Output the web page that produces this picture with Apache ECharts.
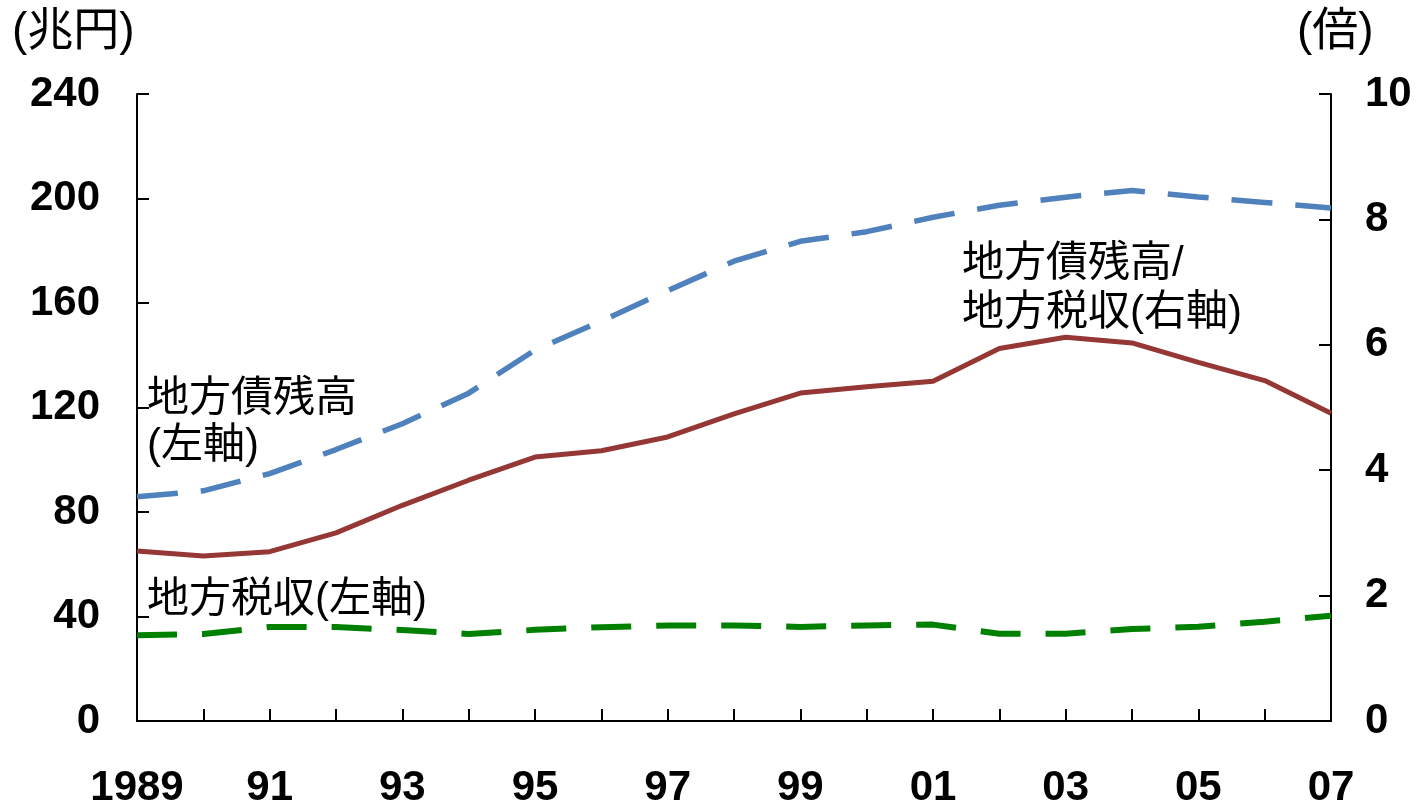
<!DOCTYPE html>
<html>
<head>
<meta charset="utf-8">
<script src="https://cdn.jsdelivr.net/npm/echarts@6/dist/echarts.min.js"></script>
<style>
html,body{margin:0;padding:0;background:#fff;}
#c{width:1420px;height:809px;}
</style>
</head>
<body>
<div id="c"></div>
<script>
const years = ['1989','1990','1991','1992','1993','1994','1995','1996','1997','1998','1999','2000','2001','2002','2003','2004','2005','2006','2007'];
const tickLabels = ['1989','91','93','95','97','99','01','03','05','07'];
const debt = [85.8, 88.1, 94.7, 103.9, 113.8, 125.5, 142.0, 153.1, 164.7, 176.0, 183.6, 187.3, 192.8, 197.4, 200.5, 203.1, 200.6, 198.5, 196.4];
const ratio = [2.71, 2.63, 2.70, 3.00, 3.44, 3.84, 4.21, 4.31, 4.53, 4.90, 5.23, 5.33, 5.42, 5.94, 6.12, 6.03, 5.72, 5.43, 4.91];
const tax = [32.8, 33.3, 36.0, 36.0, 34.8, 33.3, 34.9, 35.9, 36.6, 36.6, 36.0, 36.6, 36.9, 33.4, 33.4, 35.2, 36.1, 38.0, 40.3];
const leftTicks = {min: 0, max: 240, interval: 40};
const rightTicks = {min: 0, max: 10, interval: 2};

const numFont = {fontFamily: '"Liberation Sans", Arial, sans-serif', fontWeight: 'bold', fontSize: 42, color: '#000'};
const jpFont = '42px "Liberation Sans", "Noto Sans CJK JP", sans-serif';
const unitFont = '46px "Liberation Sans", "Noto Sans CJK JP", sans-serif';

const chart = echarts.init(document.getElementById('c'));
const axisLine = {show: true, lineStyle: {color: '#000', width: 2}};
const axisTick = {show: true, inside: true, length: 12, lineStyle: {color: '#000', width: 2}};

function txt(text, x, y, font) {
  return {type: 'text', x: x, y: y, silent: true,
    style: {text: text, font: font || jpFont, fill: '#000', align: 'left', verticalAlign: 'middle'}};
}

chart.setOption({
  animation: false,
  backgroundColor: '#fff',
  grid: {left: 137, right: 89, top: 94, bottom: 86, containLabel: false},
  xAxis: {
    type: 'category', data: years, boundaryGap: false,
    axisLine: axisLine,
    axisTick: Object.assign({}, axisTick, {interval: 0, alignWithLabel: true}),
    axisLabel: Object.assign({}, numFont, {
      interval: 1, margin: 46,
      formatter: function (v, i) { return tickLabels[i / 2]; }
    }),
    splitLine: {show: false}
  },
  yAxis: [
    Object.assign({type: 'value', position: 'left'}, leftTicks, {
      axisLine: axisLine, axisTick: axisTick,
      axisLabel: Object.assign({}, numFont, {margin: 37}),
      splitLine: {show: false}
    }),
    Object.assign({type: 'value', position: 'right'}, rightTicks, {
      axisLine: axisLine, axisTick: axisTick,
      axisLabel: Object.assign({}, numFont, {margin: 34}),
      splitLine: {show: false}
    })
  ],
  series: [
    {name: '地方債残高', type: 'line', data: debt, yAxisIndex: 0, symbol: 'none',
      lineStyle: {color: '#4F81BD', width: 5.5, type: [41, 23], cap: 'butt'}},
    {name: '地方債残高/地方税収', type: 'line', data: ratio, yAxisIndex: 1, symbol: 'none',
      lineStyle: {color: '#953735', width: 5, type: 'solid'}},
    {name: '地方税収', type: 'line', data: tax, yAxisIndex: 0, symbol: 'none',
      lineStyle: {color: '#008000', width: 6, type: [40, 25], cap: 'butt'}}
  ],
  graphic: [
    txt('(兆円)', 12, 32, unitFont),
    txt('(倍)', 1297, 32, unitFont),
    txt('地方債残高', 147, 399),
    txt('(左軸)', 147, 446),
    txt('地方税収(左軸)', 147, 600),
    txt('地方債残高/', 962, 264),
    txt('地方税収(右軸)', 962, 313)
  ]
});
</script>
</body>
</html>
